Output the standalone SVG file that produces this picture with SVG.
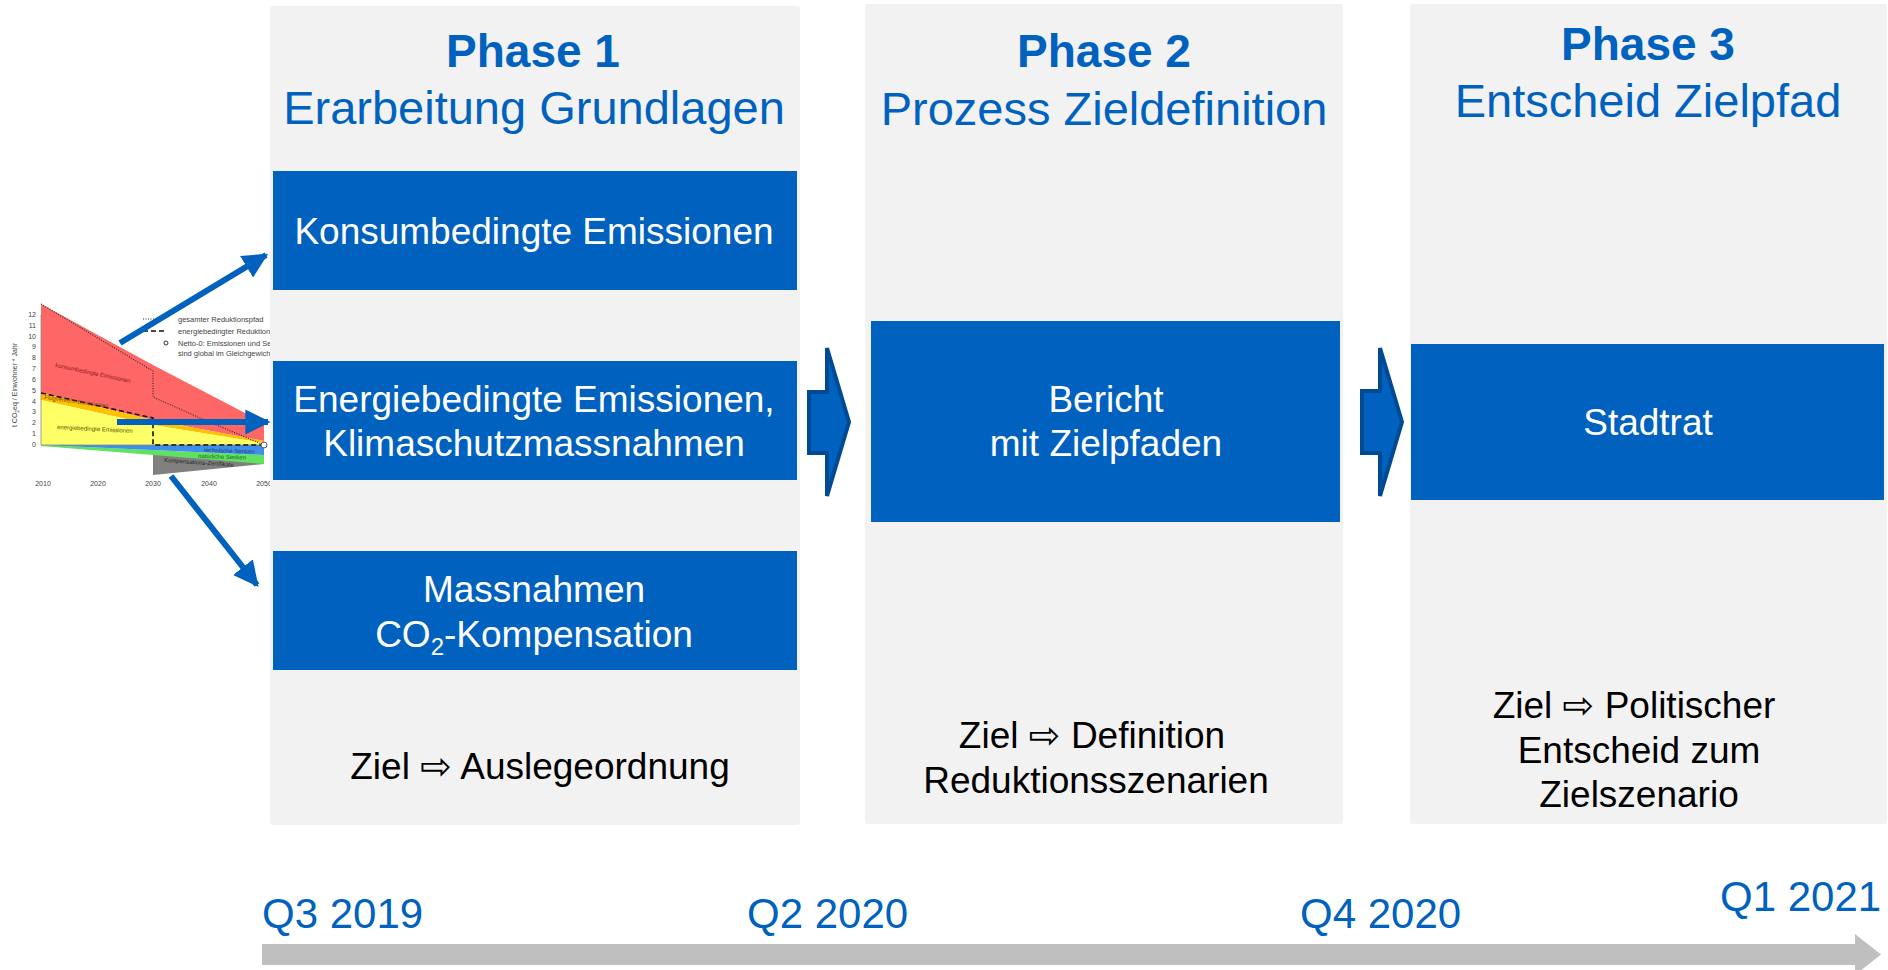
<svg xmlns="http://www.w3.org/2000/svg" width="1888" height="970" viewBox="0 0 1888 970">
<style>
.panel{fill:#F2F2F2}
.box{fill:#0062BE}
.ph{font-family:"Liberation Sans",Arial,sans-serif;font-weight:bold;font-size:46px;fill:#0062BE;text-anchor:middle}
.sub{font-family:"Liberation Sans",Arial,sans-serif;font-size:47px;fill:#0062BE;text-anchor:middle}
.bt{font-family:"Liberation Sans",Arial,sans-serif;font-size:37px;fill:#FFFFFF;text-anchor:middle}
.goal{font-family:"Liberation Sans",Arial,sans-serif;font-size:37px;fill:#000000;text-anchor:middle}
.arr{font-family:"DejaVu Sans",sans-serif;font-size:38px}
.q{font-family:"Liberation Sans",Arial,sans-serif;font-size:42px;fill:#0062BE}
.step{fill:#0062BE;stroke:#004A94;stroke-width:4;stroke-linejoin:miter}
.lnk{stroke:#0062BE;stroke-width:6;fill:none}
.tick{font-family:"Liberation Sans",Arial,sans-serif;font-size:7px;fill:#444}
.leg{font-family:"Liberation Sans",Arial,sans-serif;font-size:7.5px;fill:#444}
.lab{font-family:"Liberation Sans",Arial,sans-serif;font-size:6px}
</style>
<defs>
<marker id="ah" viewBox="0 0 10 10" refX="9" refY="5" markerWidth="4.2" markerHeight="4.2" orient="auto" markerUnits="strokeWidth">
<path d="M0,0 L10,5 L0,10 z" fill="#0062BE"/>
</marker>
</defs>
<rect width="1888" height="970" fill="#FFFFFF"/>

<!-- chart (left) -->
<g id="chart">
<polygon points="41,304 153,365 264,423 264,441 153,420 41,393" fill="#FF6666"/>
<polygon points="41,393 153,420 264,441 264,443 153,425 41,400" fill="#FFC000"/>
<polygon points="41,400 153,425 264,443 264,445 41,445" fill="#FFFF66"/>
<polygon points="153,452 264,460 264,464 153,475" fill="#808080"/>
<polygon points="41,445 264,455 264,464 41,446" fill="#5FE35F"/>
<polygon points="41,445 264,445 264,455" fill="#3F8FEA"/>
<line x1="41" y1="315" x2="41" y2="445" stroke="#888" stroke-width="0.8"/>
<line x1="41" y1="445" x2="264" y2="445" stroke="#888" stroke-width="0.8"/>
<path d="M41,304 L153,371 L153,397 L200,418 L264,445" fill="none" stroke="#333" stroke-width="1.2" stroke-dasharray="1,1.5"/>
<path d="M41,393 L153,418 L153,445 L264,445" fill="none" stroke="#111" stroke-width="1.6" stroke-dasharray="5,3"/>
<circle cx="264" cy="445" r="3" fill="#FFF" stroke="#555" stroke-width="1"/>
<g class="tick" text-anchor="end">
<text x="36" y="447">0</text><text x="36" y="436">1</text><text x="36" y="425">2</text><text x="36" y="414">3</text>
<text x="36" y="404">4</text><text x="36" y="393">5</text><text x="36" y="382">6</text><text x="36" y="371">7</text>
<text x="36" y="360">8</text><text x="36" y="349">9</text><text x="36" y="339">10</text><text x="36" y="328">11</text><text x="36" y="317">12</text>
</g>
<g class="tick" text-anchor="middle">
<text x="43" y="486">2010</text><text x="98" y="486">2020</text><text x="153" y="486">2030</text><text x="209" y="486">2040</text><text x="264" y="486">2050</text>
</g>
<text class="tick" transform="translate(17,385) rotate(-90)" text-anchor="middle">t CO<tspan font-size="5" dy="1.5">2</tspan><tspan dy="-1.5">eq / Einwohner * Jahr</tspan></text>
<line x1="143" y1="319" x2="165" y2="319" stroke="#333" stroke-width="1.2" stroke-dasharray="1,1.5"/>
<line x1="143" y1="331" x2="165" y2="331" stroke="#111" stroke-width="1.4" stroke-dasharray="5,3"/>
<circle cx="166" cy="343" r="2" fill="#FFF" stroke="#333" stroke-width="1"/>
<text class="leg" x="178" y="322">gesamter Reduktionspfad</text>
<text class="leg" x="178" y="334">energiebedingter Reduktionspfad</text>
<text class="leg" x="178" y="346">Netto-0: Emissionen und Senken</text>
<text class="leg" x="178" y="356">sind global im Gleichgewicht</text>
<text class="lab" fill="#8B1A1A" transform="translate(55,367) rotate(12)">konsumbedingte Emissionen</text>
<text class="lab" fill="#7A4A00" transform="translate(44,399) rotate(8)">Flugverkehr-Emissionen</text>
<text class="lab" fill="#555500" transform="translate(57,429) rotate(3)">energiebedingte Emissionen</text>
<text class="lab" fill="#1A3A6A" font-size="5" transform="translate(204,452) rotate(2)">technische Senken</text>
<text class="lab" fill="#1A5A1A" font-size="5" transform="translate(198,458) rotate(2)">natürliche Senken</text>
<text class="lab" fill="#222" font-size="5" transform="translate(164,462) rotate(4)">Kompensations-Zertifikate</text>
</g>

<!-- Phase 1 -->
<g id="phase1">
<rect class="panel" x="270" y="6" width="530" height="819" rx="3"/>
<text class="ph" x="533" y="67">Phase 1</text>
<text class="sub" x="534" y="124">Erarbeitung Grundlagen</text>
</g>
<g id="p1-konsum">
<rect class="box" x="273" y="171" width="524" height="119"/>
<text class="bt" x="534" y="244">Konsumbedingte Emissionen</text>
</g>
<g id="p1-energie">
<rect class="box" x="273" y="361" width="524" height="119"/>
<text class="bt" x="534" y="412">Energiebedingte Emissionen,</text>
<text class="bt" x="534" y="456">Klimaschutzmassnahmen</text>
</g>
<g id="p1-massnahmen">
<rect class="box" x="273" y="551" width="524" height="119"/>
<text class="bt" x="534" y="602">Massnahmen</text>
<text class="bt" x="534" y="647">CO<tspan font-size="24" dy="8">2</tspan><tspan dy="-8">-Kompensation</tspan></text>
</g>
<g id="p1-goal">
<text class="goal" x="540" y="779">Ziel <tspan class="arr">⇨</tspan> Auslegeordnung</text>
</g>

<!-- Phase 2 -->
<g id="phase2">
<rect class="panel" x="865" y="4" width="478" height="820" rx="3"/>
<text class="ph" x="1104" y="67">Phase 2</text>
<text class="sub" x="1104" y="125">Prozess Zieldefinition</text>
</g>
<g id="p2-bericht">
<rect class="box" x="871" y="321" width="469" height="201"/>
<text class="bt" x="1106" y="412">Bericht</text>
<text class="bt" x="1106" y="456">mit Zielpfaden</text>
</g>
<g id="p2-goal">
<text class="goal" x="1092" y="748">Ziel <tspan class="arr">⇨</tspan> Definition</text>
<text class="goal" x="1096" y="793">Reduktionsszenarien</text>
</g>

<!-- Phase 3 -->
<g id="phase3">
<rect class="panel" x="1410" y="4" width="477" height="820" rx="3"/>
<text class="ph" x="1648" y="60">Phase 3</text>
<text class="sub" x="1648" y="117">Entscheid Zielpfad</text>
</g>
<g id="p3-stadtrat">
<rect class="box" x="1411" y="344" width="473" height="156"/>
<text class="bt" x="1648" y="435">Stadtrat</text>
</g>
<g id="p3-goal">
<text class="goal" x="1634" y="718">Ziel <tspan class="arr">⇨</tspan> Politischer</text>
<text class="goal" x="1639" y="763">Entscheid zum</text>
<text class="goal" x="1639" y="807">Zielszenario</text>
</g>

<!-- connectors -->
<g id="connectors">
<line class="lnk" x1="120" y1="343" x2="266" y2="255" marker-end="url(#ah)"/>
<line class="lnk" x1="117" y1="422" x2="268" y2="422" marker-end="url(#ah)"/>
<line class="lnk" x1="171" y1="476" x2="257" y2="585" marker-end="url(#ah)"/>
<polygon class="step" points="809,392 827,392 827,348 849,422 827,496 827,453 809,453"/>
<polygon class="step" points="1362,391 1380,391 1380,348 1402,422 1380,496 1380,453 1362,453"/>
</g>

<!-- timeline -->
<g id="timeline">
<rect x="262" y="944" width="1593" height="21" fill="#BFBFBF"/>
<polygon points="1855,934 1881,954.5 1855,975" fill="#BFBFBF"/>
<text class="q" x="262" y="928">Q3 2019</text>
<text class="q" x="747" y="928">Q2 2020</text>
<text class="q" x="1300" y="928">Q4 2020</text>
<text class="q" x="1720" y="911">Q1 2021</text>
</g>
</svg>
